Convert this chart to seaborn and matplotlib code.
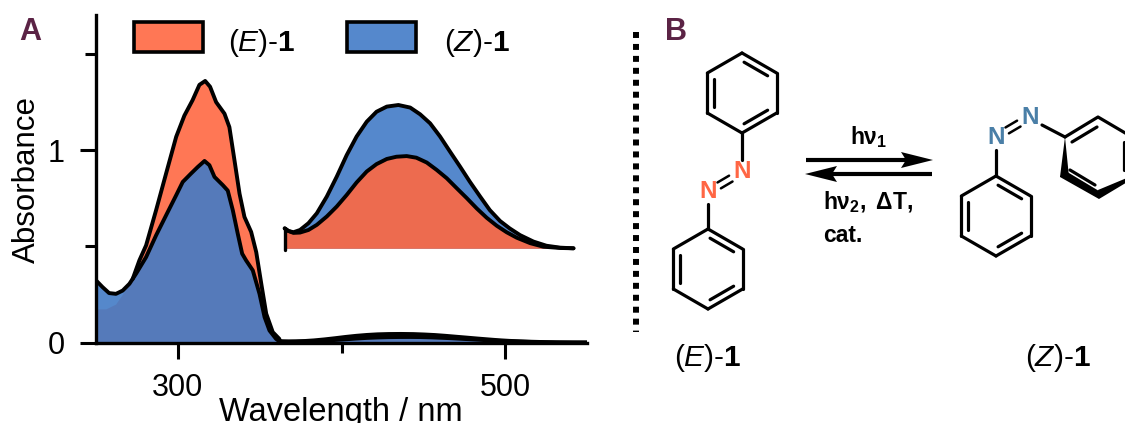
import numpy as np
import pandas as pd
import seaborn as sns
import matplotlib
matplotlib.use('Agg')
import matplotlib.pyplot as plt
from matplotlib.patches import Patch, Polygon

W, H = 1125, 423

# absorbance
uv_wl_e = [250, 256, 262, 267, 272.4, 276.5, 280.6, 286.7, 292.8, 299, 304, 309, 313.2, 316.7, 319.7, 323.4, 328.5, 331.5, 334.6, 337.7, 340.7, 344.8, 347.9, 351, 354, 358, 362]
uv_abs_e = [0.175, 0.175, 0.2, 0.262, 0.33, 0.427, 0.505, 0.6875, 0.878, 1.07, 1.18, 1.26, 1.34, 1.36, 1.33, 1.25, 1.19, 1.12, 0.948, 0.774, 0.653, 0.575, 0.47, 0.305, 0.15, 0.054, 0.019]
uv_wl_z = [250, 254, 258, 262.2, 266.3, 270.4, 274.5, 280.6, 286.7, 292.8, 299, 303, 308, 312.2, 316.3, 319.3, 322.4, 327.5, 330.5, 333.6, 336.6, 339.3, 341.7, 345.8, 349.9, 353, 356, 360]
uv_abs_z = [0.323, 0.288, 0.257, 0.253, 0.27, 0.305, 0.358, 0.444, 0.557, 0.661, 0.766, 0.835, 0.878, 0.913, 0.944, 0.922, 0.861, 0.818, 0.79, 0.6875, 0.566, 0.462, 0.427, 0.375, 0.253, 0.132, 0.0625, 0.019]

band_wl_z = [362, 364.4, 367.7, 372, 377.5, 383, 389.5, 396, 402.5, 409, 415.6, 422, 428.7, 436.3, 444, 450.5, 457, 463.5, 470, 476.6, 483, 489.7, 496, 502.7, 509, 515.8, 524.5, 533, 542, 550.7]
band_abs_z = [0.0062, 0.0054, 0.005, 0.0057, 0.0078, 0.0109, 0.0161, 0.0223, 0.029, 0.0348, 0.0394, 0.0425, 0.0441, 0.0446, 0.0438, 0.0417, 0.0389, 0.0348, 0.0301, 0.0254, 0.0207, 0.0161, 0.0119, 0.0085, 0.0062, 0.0041, 0.0021, 0.0008, 0.0002, 0.0]
band_wl_e = [362, 364.4, 367.7, 372, 377.5, 383, 389.5, 396, 402.5, 409, 415.6, 422, 428.7, 435, 441.7, 448, 454.8, 461.3, 467.9, 474.4, 481, 487.5, 494, 500.6, 507, 513.6, 522.4, 531, 542, 550.7]
band_abs_e = [0.0062, 0.0054, 0.0048, 0.0049, 0.0057, 0.0073, 0.0099, 0.013, 0.0166, 0.0205, 0.0239, 0.0262, 0.0278, 0.0285, 0.0287, 0.0282, 0.0267, 0.0244, 0.0218, 0.0187, 0.0156, 0.0124, 0.0095, 0.007, 0.005, 0.0033, 0.0016, 0.0005, 0.0001, 0.0]

x_ticks = [300, 400, 500]
x_labels = ['300', '', '500']
y_ticks = [0, 0.5, 1, 1.5]
y_labels = ['0', '', '1', '']

orange = '#FF6842'
blue = '#427BC6'
plum = '#5B2345'
n_orange = '#FF6644'
n_blue = '#4A7FA7'

sns.set_theme(style='ticks')
plt.rcParams['font.family'] = ['Liberation Sans', 'DejaVu Sans']
plt.rcParams['text.color'] = 'black'
plt.rcParams['mathtext.fontset'] = 'custom'
plt.rcParams['mathtext.rm'] = 'Liberation Sans'
plt.rcParams['mathtext.it'] = 'Liberation Sans:italic'
plt.rcParams['mathtext.bf'] = 'Liberation Sans:bold'

fig = plt.figure(figsize=(W / 100, H / 100), dpi=100)


def px_axes(left, top, right, bottom):
    return fig.add_axes([left / W, 1 - bottom / H, (right - left) / W, (bottom - top) / H])


def curve(ax, wl, ab, **kw):
    df = pd.DataFrame({'wl': wl, 'abs': ab})
    sns.lineplot(data=df, x='wl', y='abs', ax=ax, color='black', sort=False, estimator=None,
                 solid_joinstyle='round', **kw)


# panel A
ax = px_axes(96, 15, 587, 342.5)
wl_e = np.array(uv_wl_e + band_wl_e)
ab_e = np.array(uv_abs_e + band_abs_e)
wl_z = np.array(uv_wl_z + band_wl_z)
ab_z = np.array(uv_abs_z + band_abs_z)
ax.fill_between(wl_e, 0, ab_e, color=orange, alpha=0.9, lw=0)
ax.fill_between(wl_z, 0, ab_z, color=blue, alpha=0.9, lw=0)
keep = wl_e >= 272
curve(ax, wl_e[keep], ab_e[keep], lw=2.8)
curve(ax, wl_z, ab_z, lw=2.8)
ax.set_xlim(250, 550)
ax.set_ylim(0, 1.703)
ax.set_xticks(x_ticks, x_labels)
ax.set_yticks(y_ticks, y_labels)
ax.tick_params(width=2.2, length=11.5, labelsize=22, color='black', labelcolor='black')
ax.tick_params(axis='x', pad=10.5)
ax.tick_params(axis='y', pad=11)
for t, lab in zip(ax.xaxis.get_major_ticks(), x_labels):
    if not lab:
        t.tick1line.set_markersize(7.5)
for t, lab in zip(ax.yaxis.get_major_ticks(), y_labels):
    if not lab:
        t.tick1line.set_markersize(8)
for s in ['top', 'right']:
    ax.spines[s].set_visible(False)
for s in ['left', 'bottom']:
    ax.spines[s].set_linewidth(2.4)
    ax.spines[s].set_color('black')
ax.set_xlabel('Wavelength / nm', fontsize=23.5, color='black')
ax.set_ylabel('Absorbance', fontsize=22.5, color='black')
ax.xaxis.set_label_coords((341 - 96) / 491, (342 - 396) / 327)
ax.yaxis.set_label_coords((42 - 96) / 491, (342 - 179) / 327)

handles = [Patch(facecolor='#FF7755', edgecolor='black', lw=2.6),
           Patch(facecolor='#5588CC', edgecolor='black', lw=2.6)]
leg = ax.legend(handles, [r'($\mathit{E}$)-$\mathbf{1}$', r'($\mathit{Z}$)-$\mathbf{1}$'], ncols=2, frameon=False,
                fontsize=21.5, handlelength=2.3, handleheight=1.15, handletextpad=0.85, columnspacing=1.72,
                loc='upper left', bbox_to_anchor=(134 / W, 1 - 22 / H), bbox_transform=fig.transFigure,
                borderaxespad=0, borderpad=0)
leg.get_texts()[0].set_position((0, -4))
leg.get_texts()[1].set_position((3, -4))

# inset, the weak band blown up
ins = px_axes(284.7, 100.5, 573.5, 248.3)
ins.fill_between(band_wl_z, 0, band_abs_z, color='#5588CC', lw=0)
ins.fill_between(band_wl_e, 0, band_abs_e, color=orange, alpha=0.9, lw=0)
ins.axvline(362, ymin=-0.01, ymax=0.14, color='black', lw=2.4, clip_on=False)
curve(ins, band_wl_z, band_abs_z, lw=2.8, clip_on=False)
curve(ins, band_wl_e, band_abs_e, lw=2.8, clip_on=False)
ins.set_xlim(362, 550.7)
ins.set_ylim(0, 0.046)
ins.axis('off')
ins.patch.set_alpha(0)

# panel B, everything in picture pixels
sk = fig.add_axes([0, 0, 1, 1], zorder=5)
sk.set_xlim(0, W)
sk.set_ylim(H, 0)
sk.axis('off')
sk.patch.set_alpha(0)

bond = dict(color='black', lw=2.3, solid_capstyle='round', solid_joinstyle='round')


def ring(cx, cy, r=40, doubles=(0, 2, 4), skip=()):
    ang = np.radians(np.arange(6) * 60 - 90)
    xs, ys = cx + r * np.cos(ang), cy + r * np.sin(ang)
    for i in range(6):
        j = (i + 1) % 6
        if i not in skip:
            sk.plot([xs[i], xs[j]], [ys[i], ys[j]], **bond)
        if i in doubles:
            a = np.array([xs[i], ys[i]])
            b = np.array([xs[j], ys[j]])
            c = np.array([cx, cy])
            p = a + (c - a) * 0.2 + (b - a) * 0.06
            q = b + (c - b) * 0.2 + (a - b) * 0.06
            sk.plot([p[0], q[0]], [p[1], q[1]], **bond)
    return xs, ys


def n_label(x, y, c):
    sk.text(x, y, 'N', color=c, fontsize=17.5, fontweight='bold', ha='center', va='center')


def azo(x0, y0, x1, y1):
    d = np.array([x1 - x0, y1 - y0], float)
    d /= np.hypot(*d)
    nrm = np.array([-d[1], d[0]])
    for s in (-3.4, 3.4):
        a = np.array([x0, y0]) + d * 13 + nrm * s
        b = np.array([x1, y1]) - d * 13 + nrm * s
        sk.plot([a[0], b[0]], [a[1], b[1]], color='black', lw=1.8)


sk.plot([636, 636], [32, 332], color='black', lw=4.3, dashes=(1, 1))
sk.text(665, 32, 'B', color=plum, fontsize=22, fontweight='bold', ha='left', va='center')
sk.text(19, 32, 'A', color=plum, fontsize=22, fontweight='bold', ha='left', va='center')

# (E)
ring(742, 93)
ring(708, 269)
n_label(742, 172, n_orange)
n_label(708, 192, n_orange)
azo(708, 192, 742, 172)
sk.plot([742, 742], [133, 160], **bond)
sk.plot([708, 708], [229, 204], **bond)

# (Z)
ring(996, 216)
n_label(996, 137, n_blue)
n_label(1030, 117, n_blue)
azo(996, 137, 1030, 117)
sk.plot([996, 996], [150, 176], **bond)
sk.plot([1042, 1065], [125, 137], **bond)
sk.plot([1065, 1098, 1132, 1134], [137, 117, 137, 177], **bond)
sk.plot([1072, 1097], [142, 127], **bond)
sk.plot([1124, 1124], [142, 170], **bond)
sk.plot([1070, 1095], [170, 185], **bond)
sk.add_patch(Polygon([(1065, 137), (1060, 177), (1069, 177)], color='black', lw=0))
sk.add_patch(Polygon([(1060, 177), (1064, 170), (1099, 191), (1099, 199)], color='black', lw=0))
sk.add_patch(Polygon([(1099, 199), (1098, 190), (1134, 175), (1134, 178)], color='black', lw=0))

# arrows
for xa, xb, y in [(806, 933, 160), (932, 805, 174)]:
    s = 1 if xb > xa else -1
    sk.plot([xa, xb - s * 20], [y, y], color='black', lw=3, solid_capstyle='butt')
    sk.add_patch(Polygon([(xb, y), (xb - s * 32, y - 8), (xb - s * 27, y), (xb - s * 32, y + 8)], color='black', lw=0))

bold = dict(fontsize=16.5, color='black', va='center', ha='left')
sk.text(850, 137, r'$\mathbf{h\nu_1}$', **bold)
sk.text(823, 202, r'$\mathbf{h\nu_2,\ \Delta T,}$', **bold)
sk.text(823, 235, 'cat.', fontsize=16.5, fontweight='bold', va='center', ha='left', color='black')

sk.text(707.5, 358, r'($\mathit{E}$)-$\mathbf{1}$', fontsize=21.5, ha='center', va='center', color='black')
sk.text(1058, 358, r'($\mathit{Z}$)-$\mathbf{1}$', fontsize=21.5, ha='center', va='center', color='black')

fig.savefig('out.png', dpi=100)
